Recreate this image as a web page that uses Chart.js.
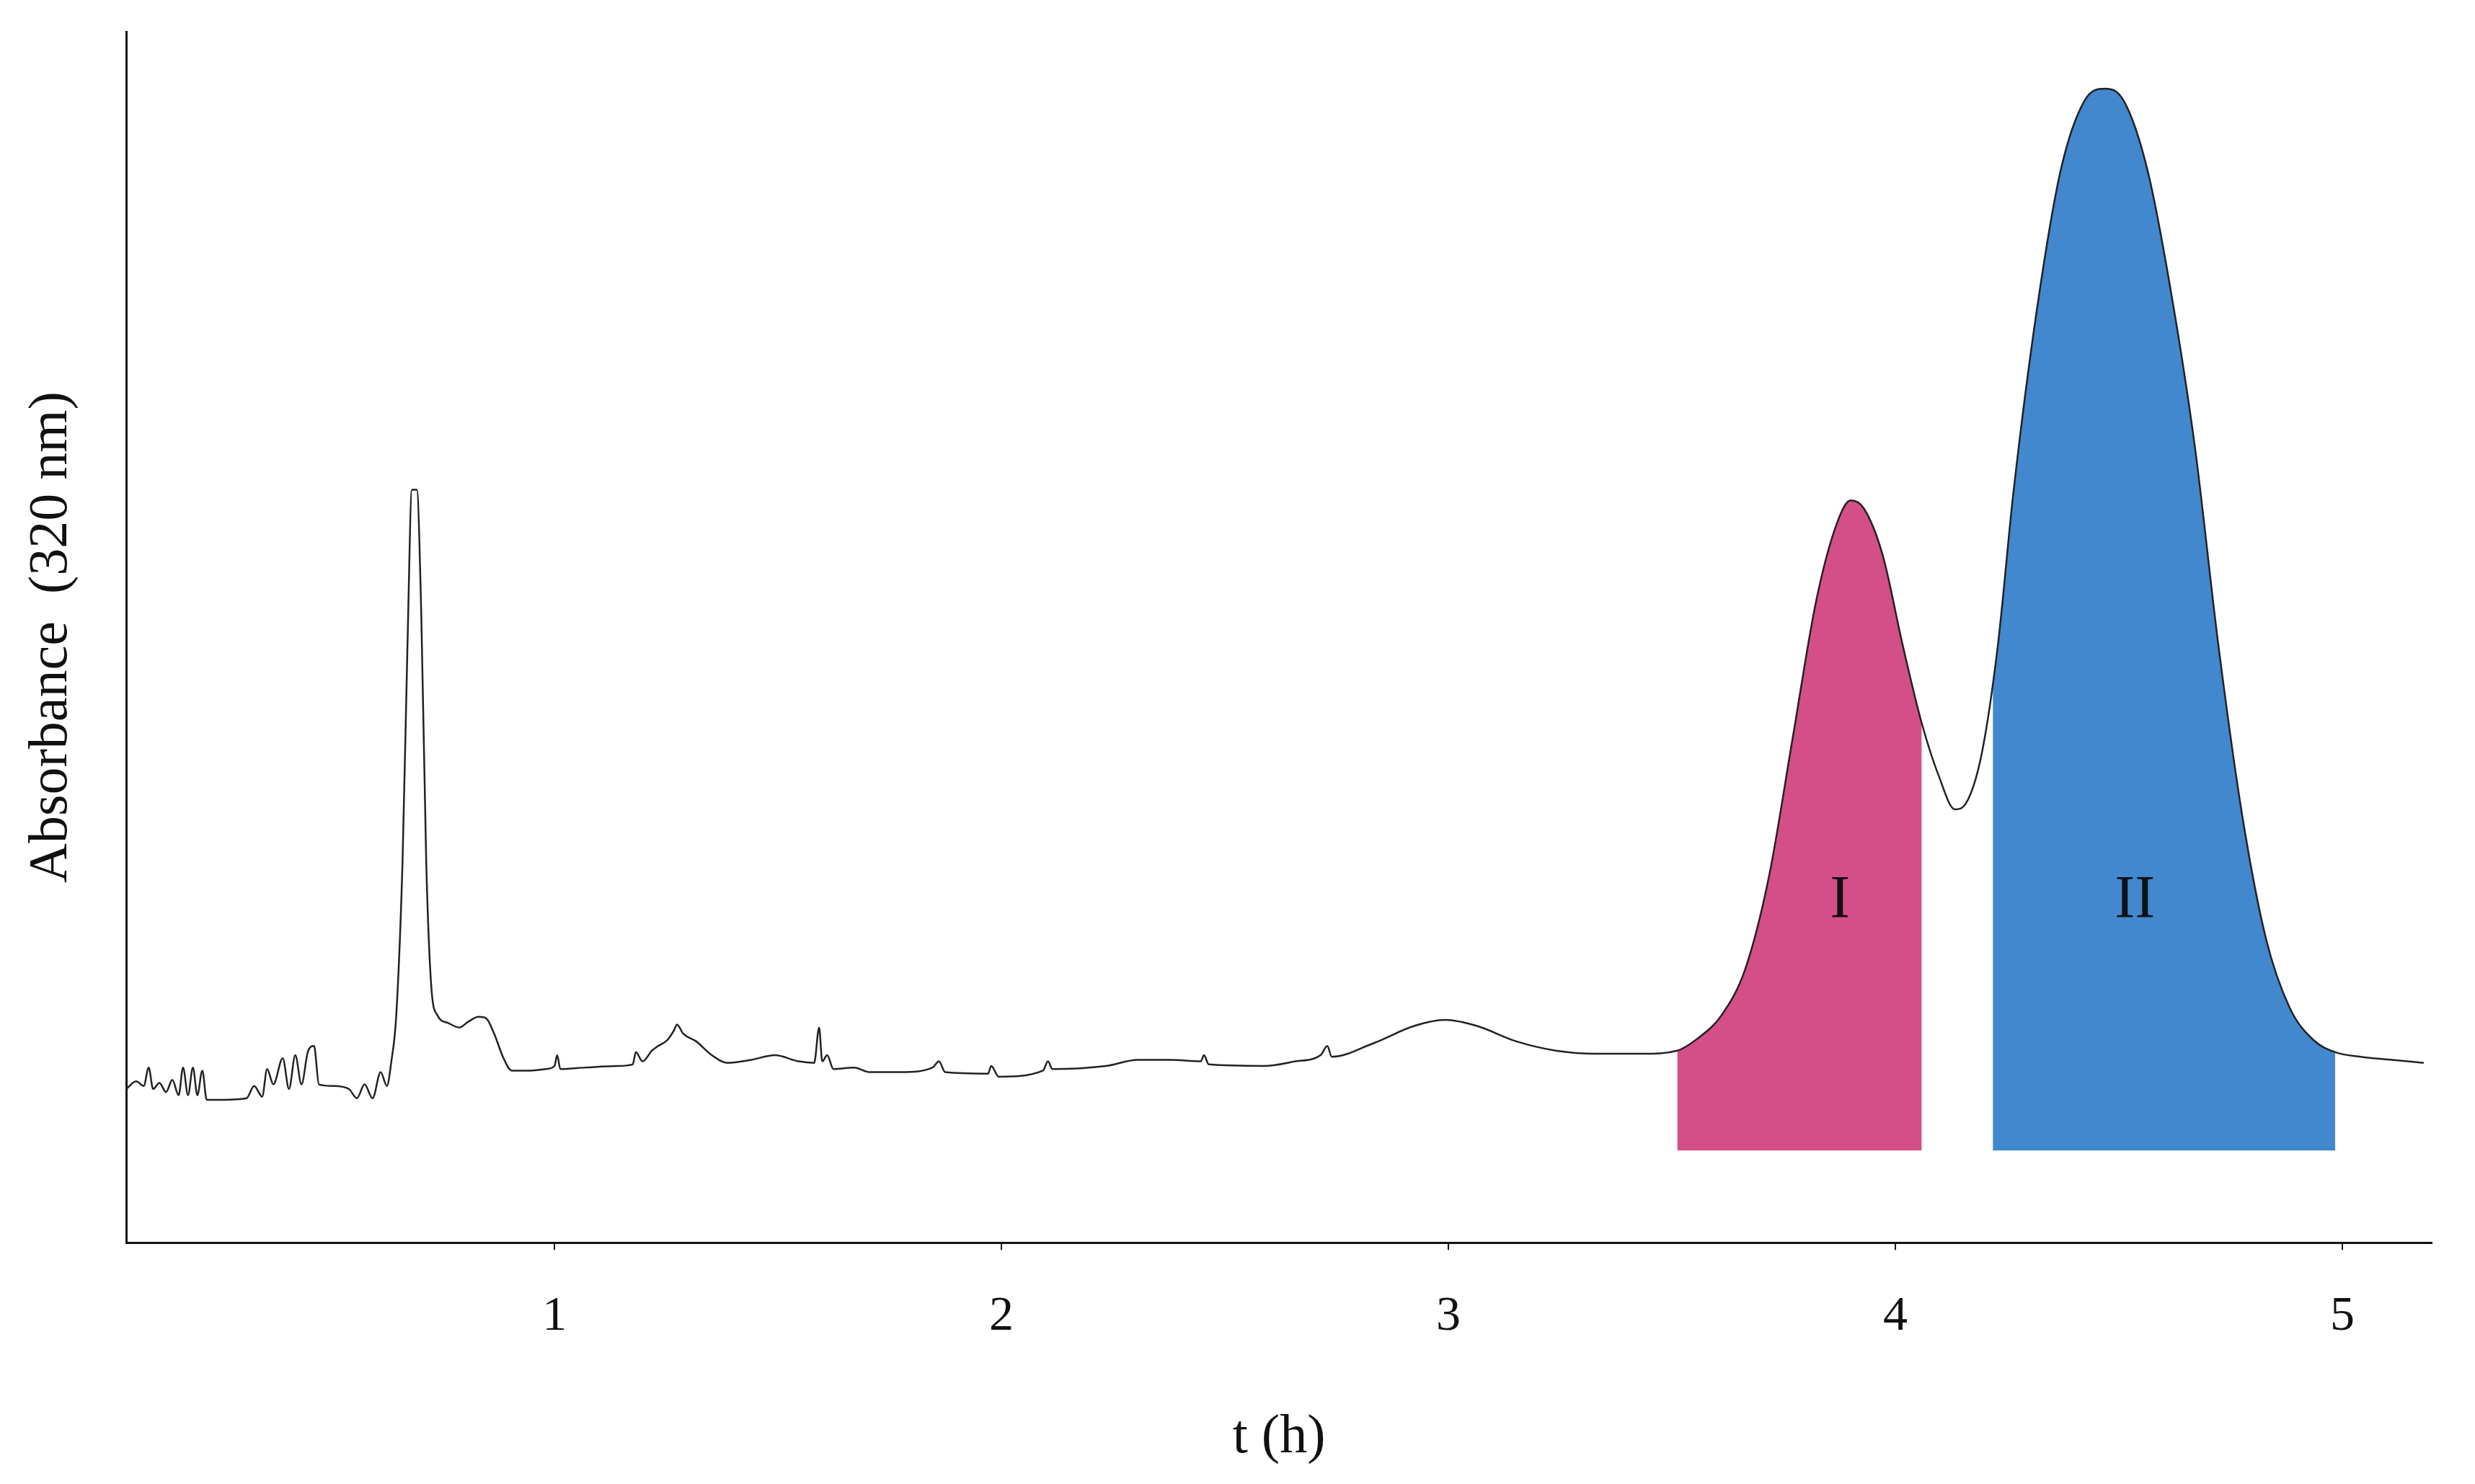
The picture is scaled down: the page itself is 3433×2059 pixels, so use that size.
<!DOCTYPE html>
<html>
<head>
<meta charset="utf-8">
<script src="https://cdn.jsdelivr.net/npm/chart.js@4/dist/chart.umd.min.js"></script>
<style>
  html, body { margin: 0; padding: 0; background: #fff; }
  #wrap { width: 3433px; height: 2059px; }
</style>
</head>
<body>
<div id="wrap"><canvas id="chromChart" width="3433" height="2059"></canvas></div>
<script>
// Chromatogram trace (time in h, absorbance in arbitrary units)
const timeH = [0.042,0.064,0.081,0.092,0.102,0.116,0.131,0.145,0.159,0.169,0.180,0.191,0.201,0.212,0.222,0.258,0.311,0.328,0.346,0.357,0.371,0.392,0.406,0.420,0.434,0.448,0.462,0.473,0.505,0.540,0.558,0.575,0.593,0.611,0.625,0.635,0.646,0.660,0.671,0.681,0.692,0.702,0.713,0.724,0.738,0.762,0.787,0.808,0.830,0.847,0.865,0.886,0.904,0.946,0.981,1.000,1.006,1.013,1.070,1.140,1.175,1.182,1.197,1.218,1.232,1.253,1.267,1.274,1.288,1.317,1.352,1.387,1.440,1.493,1.546,1.581,1.592,1.599,1.610,1.624,1.670,1.705,1.776,1.846,1.860,1.874,1.970,1.977,1.994,2.093,2.104,2.114,2.234,2.305,2.376,2.446,2.453,2.464,2.587,2.658,2.714,2.729,2.739,2.834,2.923,2.993,3.064,3.152,3.240,3.329,3.435,3.512,3.558,3.611,3.664,3.717,3.770,3.823,3.869,3.900,3.929,3.971,4.017,4.059,4.098,4.133,4.158,4.193,4.229,4.264,4.317,4.370,4.423,4.469,4.511,4.564,4.617,4.670,4.723,4.776,4.829,4.882,4.935,4.984,5.041,5.111,5.182];
const absorb = [100,105,102,114,100,104,98,106,96,114,96,114,96,112,93,93,94,102,95,113,103,120,100,122,103,124,128,103,102,100,94,103,94,111,102,118,148,248,388,490,490,408,248,168,148,143,140,144,147,146,136,120,112,112,113,115,122,113,114,115,116,124,118,125,128,132,138,142,136,131,122,117,119,122,118,117,140,118,122,113,114,111,111,114,118,111,110,115,108,112,118,113,115,119,119,118,122,116,115,118,122,128,121,130,141,145,141,131,125,123,123,125,133,148,178,238,328,418,468,483,478,448,388,338,303,282,286,318,388,488,608,698,743,751,743,698,618,518,388,278,198,153,132,124,121,119,117];

// Shaded fractions
const fractionNames = ["I", "II"];
const fractionStart = [3.512, 4.218];
const fractionEnd = [4.059, 4.984];
const fractionColors = ["#d44e87", "#4188cf"];
const fractionFloor = 60;
const fractionLabelT = [3.876, 4.536];
const fractionLabelA = 222;

const xTicks = [1, 2, 3, 4, 5];

function interp(t) {
  for (let i = 1; i < timeH.length; i++) {
    if (timeH[i] >= t) {
      const f = (t - timeH[i - 1]) / (timeH[i] - timeH[i - 1]);
      return absorb[i - 1] + f * (absorb[i] - absorb[i - 1]);
    }
  }
  return absorb[absorb.length - 1];
}

function fractionPoints(k) {
  const a = fractionStart[k], b = fractionEnd[k];
  const pts = [{ x: a, y: interp(a) }];
  timeH.forEach((t, i) => { if (t > a && t < b) pts.push({ x: t, y: absorb[i] }); });
  pts.push({ x: b, y: interp(b) });
  return pts;
}

const trace = timeH.map((t, i) => ({ x: t, y: absorb[i] }));

const fractionLabels = {
  id: 'fractionLabels',
  afterDatasetsDraw(chart) {
    const { ctx, scales } = chart;
    ctx.save();
    ctx.fillStyle = '#111';
    ctx.font = '84px "Liberation Serif"';
    ctx.textAlign = 'center';
    ctx.textBaseline = 'middle';
    fractionNames.forEach((n, k) => {
      ctx.fillText(n, scales.x.getPixelForValue(fractionLabelT[k]), scales.y.getPixelForValue(fractionLabelA));
    });
    ctx.restore();
  }
};

const datasets = fractionNames.map((n, k) => ({
  label: n,
  data: fractionPoints(k),
  borderWidth: 0,
  pointRadius: 0,
  backgroundColor: fractionColors[k],
  fill: { value: fractionFloor },
  cubicInterpolationMode: 'monotone',
  order: 2
}));
datasets.push({
  label: 'trace',
  data: trace,
  borderColor: '#222',
  borderWidth: 2.5,
  pointRadius: 0,
  fill: false,
  cubicInterpolationMode: 'monotone',
  order: 1
});

new Chart(document.getElementById('chromChart').getContext('2d'), {
  type: 'line',
  data: { datasets },
  options: {
    responsive: false,
    animation: false,
    devicePixelRatio: 1,
    layout: { padding: { top: 44, right: 60, left: 22, bottom: 14 } },
    plugins: { legend: { display: false }, tooltip: { enabled: false } },
    scales: {
      x: {
        type: 'linear',
        min: 0.042,
        max: 5.2,
        afterBuildTicks: axis => { axis.ticks = xTicks.map(v => ({ value: v })); },
        ticks: { color: '#111', font: { family: 'Liberation Serif', size: 68 }, padding: 52 },
        grid: { display: true, drawOnChartArea: false, color: '#111', tickLength: 10, lineWidth: 2 },
        border: { display: true, color: '#111', width: 3 },
        title: { display: true, text: 't (h)', color: '#111', font: { family: 'Liberation Serif', size: 76 }, padding: { top: 30 } }
      },
      y: {
        min: 0,
        max: 788,
        ticks: { display: false },
        grid: { display: false },
        border: { display: true, color: '#111', width: 3 },
        title: { display: true, text: 'Absorbance  (320 nm)', color: '#111', font: { family: 'Liberation Serif', size: 76 }, padding: { bottom: 50 } }
      }
    }
  },
  plugins: [fractionLabels]
});
</script>
</body>
</html>
